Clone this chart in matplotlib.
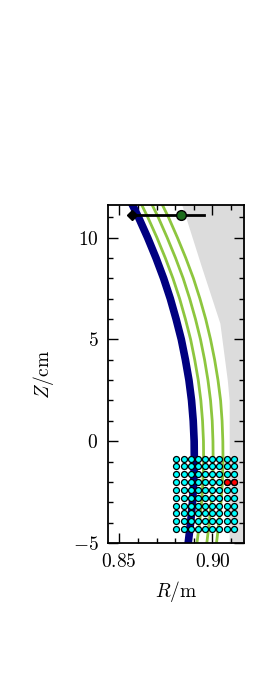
import numpy as np
import matplotlib
matplotlib.use("Agg")
import matplotlib.pyplot as plt

plt.rcParams['font.family'] = 'serif'
plt.rcParams['font.serif'] = ['cmr10']
plt.rcParams['mathtext.fontset'] = 'cm'
plt.rcParams['axes.formatter.use_mathtext'] = True
plt.rcParams['font.size'] = 14

# flux surfaces: Z in cm, R in m
z_surf = [12, 11, 10, 9, 8, 7, 6, 5, 4, 3, 2, 1, 0, -1, -2, -3, -4, -5, -5.5]
r_sep = [0.8549, 0.8603, 0.8652, 0.8697, 0.8738, 0.8774, 0.8805, 0.8833, 0.8855, 0.8874,
         0.8888, 0.8897, 0.8902, 0.8903, 0.8900, 0.8893, 0.8883, 0.8870, 0.8862]
r_g1 = [0.8599, 0.8653, 0.8702, 0.8747, 0.8788, 0.8824, 0.8855, 0.8883, 0.8905, 0.8924,
        0.8938, 0.8947, 0.8952, 0.8953, 0.8949, 0.8942, 0.8931, 0.8917, 0.8908]
r_g2 = [0.8655, 0.8709, 0.8757, 0.8802, 0.8843, 0.8878, 0.8909, 0.8936, 0.8958, 0.8976,
        0.8990, 0.8999, 0.9003, 0.9004, 0.9001, 0.8994, 0.8983, 0.8970, 0.8962]
r_g3 = [0.8710, 0.8764, 0.8812, 0.8857, 0.8898, 0.8933, 0.8964, 0.8990, 0.9012, 0.9030,
        0.9044, 0.9052, 0.9056, 0.9057, 0.9054, 0.9046, 0.9035, 0.9022, 0.9014]

# wall / limiter shadow
z_wall = [12, 11.6, 8.6, 5.8, 3.0, 2.0, -5.5]
r_wall = [0.8824, 0.8836, 0.8940, 0.9040, 0.9080, 0.9090, 0.9090]

# measurement positions
r_cols = [0.8806, 0.8845, 0.8884, 0.8922, 0.8961, 0.8999, 0.9038, 0.9076, 0.9115]
z_rows = [-0.85, -1.23, -1.62, -2.00, -2.39, -2.77, -3.16, -3.54, -3.93, -4.31]
r_red = [0.9076, 0.9115]
z_red = [-2.00, -2.00]

# probe position with range
r_probe = 0.8833
z_probe = 11.1
r_probe_lo = 0.8570
r_probe_hi = 0.8955

fig = plt.figure(figsize=(2.73, 6.81), dpi=100)
ax = fig.add_axes([0.396, 0.2026, 0.498, 0.4964])

ax.fill_betweenx(z_wall, r_wall, 0.93, color='#dcdcdc', lw=0, zorder=1)

ax.plot(r_sep, z_surf, color='#000080', lw=5.5, solid_capstyle='butt', zorder=2)
for rg in [r_g1, r_g2, r_g3]:
    ax.plot(rg, z_surf, color='#8dc63f', lw=2, zorder=2)

ax.plot([r_probe_lo, r_probe_hi], [z_probe, z_probe], color='k', lw=2, zorder=4)
ax.plot([r_probe_lo], [z_probe], marker='D', color='k', ms=5, zorder=5)
ax.plot([r_probe], [z_probe], marker='o', color='#1a6b1a', mec='k', mew=1, ms=7, zorder=5)

rr, zz = np.meshgrid(r_cols, z_rows)
ax.plot(rr.ravel(), zz.ravel(), ls='none', marker='o', ms=4.3, mfc='cyan', mec='k', mew=0.9, zorder=6)
ax.plot(r_red, z_red, ls='none', marker='o', ms=4.3, mfc='red', mec='k', mew=0.9, zorder=7)

ax.set_xlim(0.844, 0.917)
ax.set_ylim(-5, 11.6)
ax.set_xticks([0.85, 0.90])
ax.set_xticks(np.arange(0.85, 0.915, 0.01), minor=True)
ax.set_yticks([-5, 0, 5, 10])
ax.set_yticks(np.arange(-5, 12, 1), minor=True)
ax.tick_params(which='both', direction='in', top=True, right=True, width=1)
ax.tick_params(which='major', length=7, pad=7)
ax.tick_params(which='minor', length=3.5)
for s in ax.spines.values():
    s.set_linewidth(1.3)

ax.set_xlabel(r'$R/\mathrm{m}$', labelpad=6)
ax.set_ylabel(r'$Z/\mathrm{cm}$', labelpad=12)

fig.savefig('out.png', dpi=100)
